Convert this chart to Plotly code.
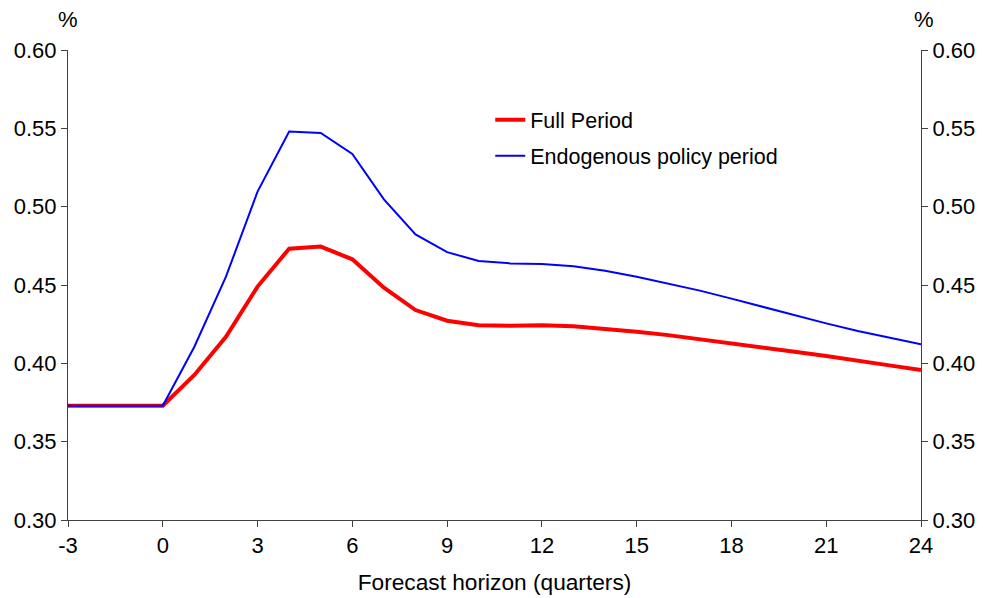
import plotly.graph_objects as go

horizon = list(range(-3, 25))
full_period = [0.373, 0.373, 0.373, 0.373, 0.3926, 0.417, 0.449, 0.4732, 0.4745, 0.4664,
               0.4483, 0.434, 0.4272, 0.4243, 0.424, 0.4243, 0.4236, 0.4221, 0.4202, 0.418,
               0.4155, 0.4128, 0.410, 0.4074, 0.4047, 0.402, 0.3987, 0.3957]
endogenous = [0.373, 0.373, 0.373, 0.373, 0.4106, 0.4553, 0.5096, 0.548, 0.547, 0.5336,
              0.5047, 0.4823, 0.471, 0.4653, 0.4638, 0.4634, 0.462, 0.4591, 0.4553, 0.451,
              0.4464, 0.4413, 0.436, 0.4306, 0.4255, 0.4206, 0.4162, 0.4121]
y_ticks = [0.30, 0.35, 0.40, 0.45, 0.50, 0.55, 0.60]
x_ticks = list(range(-3, 25, 3))
x_tick_text = [str(v) for v in x_ticks]

FONT = "Liberation Sans, Arial, sans-serif"
FS = 22
AXC = "#404040"

fig = go.Figure()
fig.add_trace(go.Scatter(x=horizon, y=full_period, mode="lines", name="Full Period",
                         legendgroup="a", line=dict(color="#ff0000", width=4)))
fig.add_trace(go.Scatter(x=horizon, y=endogenous, mode="lines", name="Endogenous policy period",
                         legendgroup="b", line=dict(color="#0000ff", width=2)))
fig.add_trace(go.Scatter(x=horizon, y=endogenous, mode="lines", yaxis="y2", showlegend=False,
                         hoverinfo="skip", line=dict(color="rgba(0,0,0,0)", width=0)))

axis_common = dict(range=[0.30, 0.60], tickvals=y_ticks, ticktext=[f"{v:.2f}" for v in y_ticks],
                   ticks="outside", ticklen=6, tickcolor=AXC, showline=True, linecolor=AXC,
                   linewidth=1, showgrid=False, zeroline=False, automargin=False,
                   tickfont=dict(family=FONT, size=FS, color="#000"))

fig.update_layout(
    width=983, height=598,
    margin=dict(l=68, r=62, t=50, b=78),
    paper_bgcolor="white", plot_bgcolor="white",
    font=dict(family=FONT, size=FS, color="#000"),
    xaxis=dict(range=[-3, 24], tickvals=x_ticks, ticktext=x_tick_text, ticks="outside",
               ticklen=6, tickcolor=AXC, automargin=False,
               showline=True, linecolor=AXC, linewidth=1, showgrid=False, zeroline=False,
               tickfont=dict(family=FONT, size=FS, color="#000"),
               title=dict(text="Forecast horizon (quarters)", standoff=16,
                          font=dict(family=FONT, size=22.7, color="#000"))),
    yaxis=dict(**axis_common, side="left"),
    yaxis2=dict(**axis_common, side="right", overlaying="y"),
    legend=dict(x=0.495, y=0.895, xanchor="left", yanchor="top", bgcolor="rgba(0,0,0,0)",
                font=dict(family=FONT, size=21.5, color="#000"), tracegroupgap=5),
    showlegend=True,
    annotations=[
        dict(text="%", xref="paper", yref="paper", x=0, y=1, xanchor="center", yanchor="bottom",
             yshift=16, showarrow=False, font=dict(family=FONT, size=FS, color="#000")),
        dict(text="%", xref="paper", yref="paper", x=1, y=1, xanchor="center", yanchor="bottom",
             yshift=16, xshift=3, showarrow=False, font=dict(family=FONT, size=FS, color="#000")),
    ],
)

fig.write_html("out.html", config={"displayModeBar": False},
               post_script="document.body.style.margin='0';")
